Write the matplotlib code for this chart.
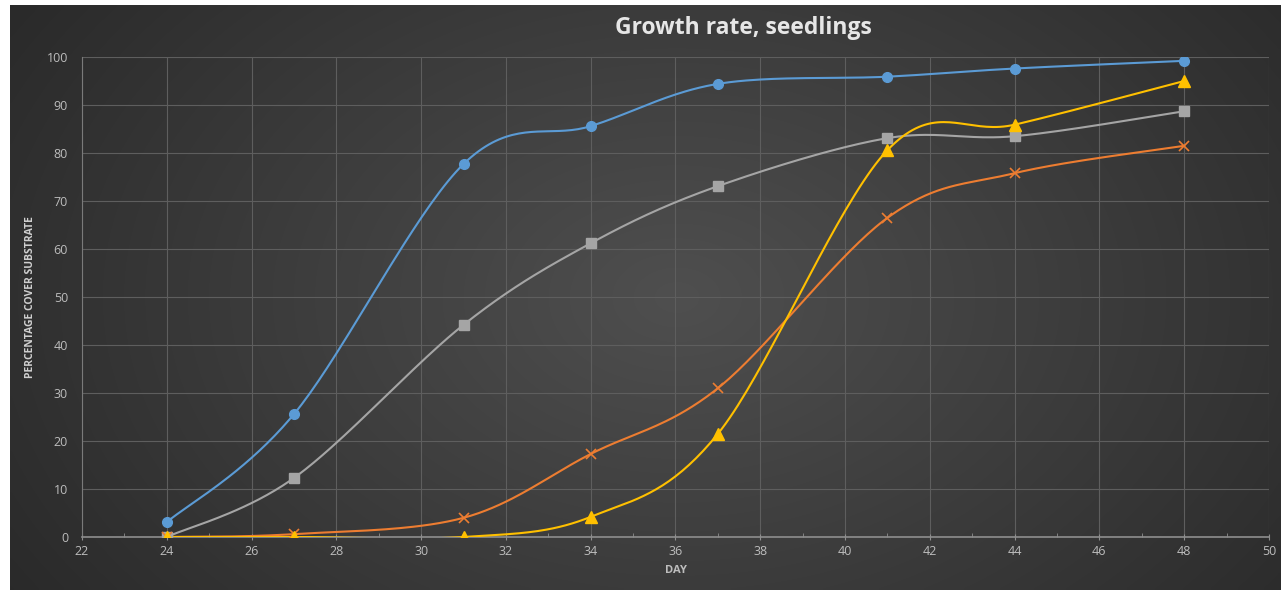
import numpy as np
import matplotlib.pyplot as plt

days = [24, 27, 31, 34, 37, 41, 44, 48]
blue_vals = [3.1, 25.6, 77.7, 85.6, 94.4, 95.9, 97.6, 99.2]
gray_vals = [0, 12.3, 44.2, 61.2, 73.1, 83.1, 83.5, 88.7]
orange_vals = [0, 0.6, 4.0, 17.3, 31.0, 66.5, 75.8, 81.5]
yellow_vals = [0, 0, 0, 4.2, 21.5, 80.6, 85.9, 95.0]

x_ticks = list(range(22, 51, 2))
y_ticks = list(range(0, 101, 10))


def smooth(xs, ys, n=40):
    # Excel-style smoothing: cubic Bezier through the points (Catmull-Rom)
    p = np.column_stack([xs, ys]).astype(float)
    p = np.vstack([p[0], p, p[-1]])
    out = []
    t = np.linspace(0, 1, n)[:, None]
    for i in range(1, len(p) - 2):
        p0, p1, p2, p3 = p[i - 1], p[i], p[i + 1], p[i + 2]
        c1 = p1 + (p2 - p0) / 6
        c2 = p2 - (p3 - p1) / 6
        seg = ((1 - t) ** 3) * p1 + 3 * ((1 - t) ** 2) * t * c1 + 3 * (1 - t) * t ** 2 * c2 + t ** 3 * p2
        out.append(seg)
    out = np.vstack(out)
    return out[:, 0], out[:, 1]


plt.rcParams['font.family'] = ['Open Sans', 'DejaVu Sans']

fig = plt.figure(figsize=(12.81, 5.9), dpi=100)
fig.patch.set_facecolor('white')

# dark gradient background panel
bg = fig.add_axes([10 / 1281, 0, 1 - 10 / 1281, 1 - 5 / 590])
gx, gy = np.meshgrid(np.linspace(-1, 1, 300), np.linspace(-1, 1, 150))
r = np.sqrt(((gx - 0.05) * 0.9) ** 2 + (gy * 0.6) ** 2)
shade = 0.31 - 0.13 * np.clip(r, 0, 1.3)
img = np.dstack([shade, shade, shade])
bg.imshow(img, aspect='auto', extent=[0, 1, 0, 1], interpolation='bilinear')
bg.axis('off')

ax = fig.add_axes([82 / 1281, 1 - 537 / 590, (1269 - 82) / 1281, (537 - 57) / 590])
ax.patch.set_alpha(0)

series = [
    (blue_vals, '#5B9BD5', 'o', 7),
    (gray_vals, '#A5A5A5', 's', 7),
    (orange_vals, '#ED7D31', 'x', 7),
    (yellow_vals, '#FFC000', '^', 8),
]
for vals, col, mk, ms in series:
    sx, sy = smooth(days, vals)
    ax.plot(sx, sy, color=col, lw=1.5, zorder=3)
    if mk == 'x':
        ax.plot(days, vals, ls='none', marker=mk, color=col, ms=ms, mew=1.2, zorder=4)
    else:
        ax.plot(days, vals, ls='none', marker=mk, color=col, ms=ms, mec=col, zorder=4)

ax.set_xlim(22, 50)
ax.set_ylim(0, 100)
ax.set_xticks(x_ticks)
ax.set_yticks(y_ticks)
ax.set_xticks(range(23, 50, 2), minor=True)
ax.grid(True, color='#5e5e5e', lw=0.8, zorder=0)
for s in ['top', 'right']:
    ax.spines[s].set_visible(False)
ax.spines['left'].set_color('#7a7a7a')
ax.spines['bottom'].set_color('#8e8e8e')
ax.spines['bottom'].set_linewidth(1.2)
ax.tick_params(axis='x', which='major', colors='#8e8e8e', length=5, direction='inout', labelcolor='#bdbdbd', labelsize=9)
ax.tick_params(axis='x', which='minor', colors='#8e8e8e', length=3, direction='in')
ax.tick_params(axis='y', length=0, labelcolor='#bdbdbd', labelsize=9, pad=10)

ax.set_xlabel('DAY', color='#bdbdbd', fontsize=8, fontweight='bold', labelpad=5)
ax.set_ylabel('PERCENTAGE COVER SUBSTRATE', color='#d0d0d0', fontsize=7.5, fontweight='bold', labelpad=8)

fig.text(743 / 1281, 1 - 28 / 590, 'Growth rate, seedlings', ha='center', va='center',
         color='#e6e6e6', fontsize=16.5, fontweight='bold')

fig.savefig('out.png', dpi=100, facecolor=fig.get_facecolor())
